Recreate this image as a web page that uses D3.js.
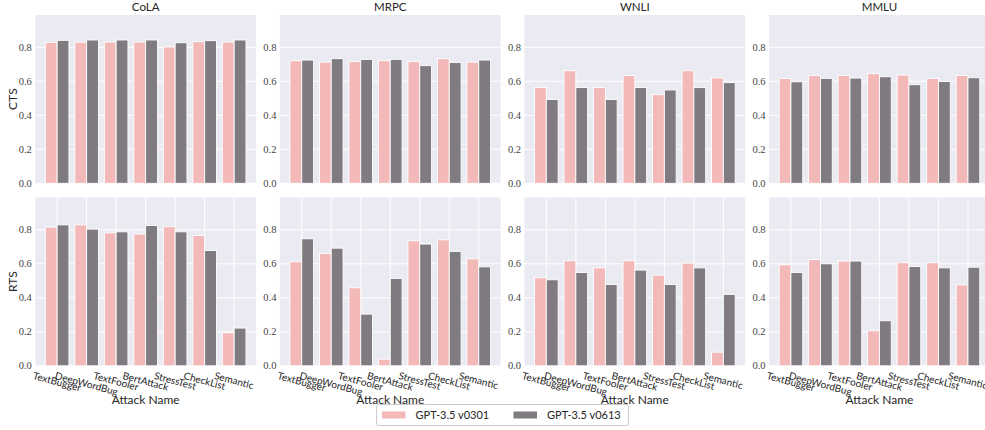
<!DOCTYPE html>
<html>
<head>
<meta charset="utf-8">
<script src="https://cdn.jsdelivr.net/npm/d3@7"></script>
<style>
  html, body { margin: 0; padding: 0; background: #ffffff; }
  svg { display: block; }
</style>
</head>
<body>
<svg id="chart" width="985" height="430"></svg>
<script>
// ---------- data ----------
const attacks = ["TextBugger", "DeepWordBug", "TextFooler", "BertAttack", "StressTest", "CheckList", "Semantic"];
const datasets = ["CoLA", "MRPC", "WNLI", "MMLU"];
const metrics = ["CTS", "RTS"];
const seriesNames = ["GPT-3.5 v0301", "GPT-3.5 v0613"];
const yTicks = [0.0, 0.2, 0.4, 0.6, 0.8];

// CTS values (top row)
const ctsCoLA_v0301 = [0.829, 0.830, 0.831, 0.831, 0.802, 0.833, 0.831];
const ctsCoLA_v0613 = [0.841, 0.843, 0.843, 0.843, 0.827, 0.839, 0.843];
const ctsMRPC_v0301 = [0.721, 0.713, 0.717, 0.721, 0.717, 0.733, 0.713];
const ctsMRPC_v0613 = [0.725, 0.733, 0.729, 0.729, 0.692, 0.711, 0.725];
const ctsWNLI_v0301 = [0.563, 0.662, 0.563, 0.634, 0.521, 0.662, 0.620];
const ctsWNLI_v0613 = [0.493, 0.563, 0.493, 0.563, 0.549, 0.563, 0.592];
const ctsMMLU_v0301 = [0.617, 0.635, 0.635, 0.645, 0.637, 0.617, 0.635];
const ctsMMLU_v0613 = [0.597, 0.617, 0.619, 0.627, 0.580, 0.599, 0.621];

// RTS values (bottom row)
const rtsCoLA_v0301 = [0.816, 0.829, 0.782, 0.775, 0.818, 0.767, 0.194];
const rtsCoLA_v0613 = [0.829, 0.804, 0.788, 0.825, 0.788, 0.678, 0.222];
const rtsMRPC_v0301 = [0.612, 0.661, 0.459, 0.039, 0.735, 0.741, 0.629];
const rtsMRPC_v0613 = [0.747, 0.692, 0.304, 0.514, 0.716, 0.673, 0.582];
const rtsWNLI_v0301 = [0.518, 0.618, 0.576, 0.618, 0.533, 0.604, 0.080];
const rtsWNLI_v0613 = [0.506, 0.549, 0.478, 0.563, 0.478, 0.576, 0.420];
const rtsMMLU_v0301 = [0.594, 0.625, 0.616, 0.206, 0.606, 0.606, 0.476];
const rtsMMLU_v0613 = [0.549, 0.600, 0.616, 0.265, 0.584, 0.576, 0.580];

const table = {
  CTS: {
    CoLA: [ctsCoLA_v0301, ctsCoLA_v0613],
    MRPC: [ctsMRPC_v0301, ctsMRPC_v0613],
    WNLI: [ctsWNLI_v0301, ctsWNLI_v0613],
    MMLU: [ctsMMLU_v0301, ctsMMLU_v0613]
  },
  RTS: {
    CoLA: [rtsCoLA_v0301, rtsCoLA_v0613],
    MRPC: [rtsMRPC_v0301, rtsMRPC_v0613],
    WNLI: [rtsWNLI_v0301, rtsWNLI_v0613],
    MMLU: [rtsMMLU_v0301, rtsMMLU_v0613]
  }
};

// ---------- style ----------
const colors = ["#f3b8b8", "#7f7b80"];
const bg = "#eaeaf2";
const sansFont = "Lato, 'DejaVu Sans', sans-serif";
const serifFont = "'Liberation Serif', 'DejaVu Serif', serif";
const textColor = "#262626";

// ---------- layout ----------
const svg = d3.select("#chart");
const panelLeft0 = 35.3, panelStep = 244.6, panelW = 220.7;
const rowTops = [15, 197.5], panelH = 168.3;
const barW = 0.4;

const yScales = rowTops.map(t => d3.scaleLinear().domain([0, 0.99]).range([t + panelH, t]));

metrics.forEach((metric, r) => {
  const y = yScales[r];
  datasets.forEach((ds, c) => {
    const left = panelLeft0 + c * panelStep;
    const x = d3.scaleLinear().domain([-0.74, 6.74]).range([left, left + panelW]);
    const g = svg.append("g");

    // background
    g.append("rect")
      .attr("x", x(-0.74)).attr("y", y(0.99))
      .attr("width", x(6.74) - x(-0.74)).attr("height", y(0) - y(0.99))
      .attr("fill", bg);

    // horizontal grid
    g.selectAll("line.hg").data(yTicks).join("line")
      .attr("x1", x(-0.74)).attr("x2", x(6.74))
      .attr("y1", d => y(d)).attr("y2", d => y(d))
      .attr("stroke", "#ffffff").attr("stroke-width", 1);

    // vertical grid (bottom row only)
    if (r === 1) {
      g.selectAll("line.vg").data(attacks.map((a, i) => i)).join("line")
        .attr("x1", d => x(d)).attr("x2", d => x(d))
        .attr("y1", y(0)).attr("y2", y(0.99))
        .attr("stroke", "#ffffff").attr("stroke-width", 1);
    }

    // bars
    table[metric][ds].forEach((vals, s) => {
      g.selectAll(null).data(vals).join("rect")
        .attr("x", (d, i) => x(i - barW + s * barW))
        .attr("width", x(barW) - x(0))
        .attr("y", d => y(d))
        .attr("height", d => y(0) - y(d))
        .attr("fill", colors[s])
        .attr("stroke", "#ffffff")
        .attr("stroke-width", 0.9);
    });

    // y tick labels
    g.selectAll("text.yt").data(yTicks).join("text")
      .attr("x", x(-0.74) - 3.5)
      .attr("y", d => y(d))
      .attr("dy", "0.34em")
      .attr("text-anchor", "end")
      .attr("font-family", serifFont)
      .attr("font-size", 10.5)
      .attr("fill", "#444")
      .text(d => d.toFixed(1));

    // titles
    if (r === 0) {
      g.append("text")
        .attr("x", (x(-0.74) + x(6.74)) / 2)
        .attr("y", 11)
        .attr("text-anchor", "middle")
        .attr("font-family", sansFont)
        .attr("font-size", 11.5)
        .attr("fill", textColor)
        .text(ds);
    }

    // y labels
    if (c === 0) {
      const cy = (y(0) + y(0.99)) / 2;
      g.append("text")
        .attr("transform", `translate(13,${cy}) rotate(-90)`)
        .attr("text-anchor", "middle")
        .attr("dy", "0.35em")
        .attr("font-family", sansFont)
        .attr("font-size", 12)
        .attr("fill", textColor)
        .text(metric);
    }

    // x tick labels + axis label (bottom row)
    if (r === 1) {
      const top0 = y(0) + 3.5;
      const fs = 10;
      const ang = 15 * Math.PI / 180;
      attacks.forEach((a, i) => {
        const t = g.append("text")
          .attr("text-anchor", "middle")
          .attr("dominant-baseline", "central")
          .attr("font-family", sansFont)
          .attr("font-size", fs)
          .attr("fill", textColor)
          .text(a);
        const w = t.node().getComputedTextLength();
        const h = fs * 1.15;
        const H = w * Math.sin(ang) + h * Math.cos(ang);
        t.attr("transform", `translate(${x(i)},${top0 + H / 2}) rotate(15)`);
      });
      g.append("text")
        .attr("x", (x(-0.74) + x(6.74)) / 2)
        .attr("y", 404)
        .attr("text-anchor", "middle")
        .attr("font-family", sansFont)
        .attr("font-size", 12)
        .attr("fill", textColor)
        .text("Attack Name");
    }
  });
});

// ---------- legend ----------
const lg = svg.append("g");
lg.append("rect")
  .attr("x", 376.5).attr("y", 404.5).attr("width", 252).attr("height", 21)
  .attr("rx", 2.5)
  .attr("fill", "#ffffff").attr("fill-opacity", 0.85)
  .attr("stroke", "#cccccc").attr("stroke-width", 1);
const legendX = [382, 513.5];
seriesNames.forEach((name, s) => {
  lg.append("rect")
    .attr("x", legendX[s]).attr("y", 411.5).attr("width", 23.5).attr("height", 7)
    .attr("fill", colors[s]);
  lg.append("text")
    .attr("x", legendX[s] + 33.5).attr("y", 415)
    .attr("dy", "0.35em")
    .attr("font-family", sansFont)
    .attr("font-size", 11)
    .attr("fill", textColor)
    .text(name);
});
</script>
</body>
</html>
